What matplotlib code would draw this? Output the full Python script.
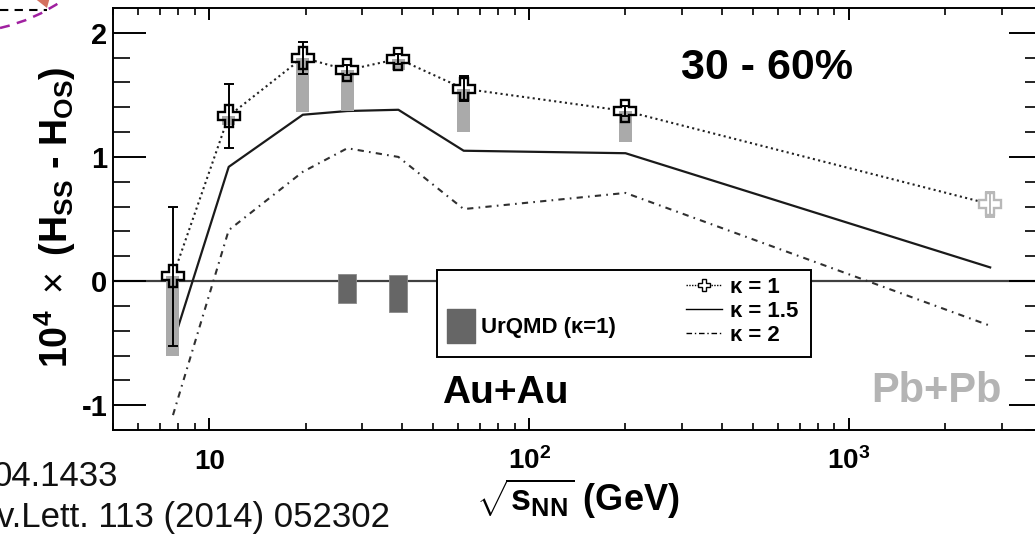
import matplotlib
matplotlib.use("Agg")
import matplotlib.pyplot as plt
import matplotlib.transforms as mtransforms
from matplotlib.lines import Line2D
from matplotlib.patches import Rectangle, Polygon, PathPatch
from matplotlib.path import Path
from matplotlib.ticker import FixedLocator, LogLocator, NullFormatter

plt.rcParams['font.family'] = ['Liberation Sans', 'DejaVu Sans']
plt.rcParams['mathtext.fontset'] = 'custom'
plt.rcParams['mathtext.rm'] = 'Liberation Sans'
plt.rcParams['mathtext.bf'] = 'Liberation Sans:bold'
plt.rcParams['mathtext.it'] = 'Liberation Sans:italic'
plt.rcParams['mathtext.sf'] = 'Liberation Sans'
plt.rcParams['axes.unicode_minus'] = False

# ---- data: 10^4 x (H_SS - H_OS), 30-60% centrality ----
energies = [7.7, 11.5, 19.6, 27, 39, 62.4, 200]
k1 = [0.04, 1.33, 1.80, 1.70, 1.79, 1.55, 1.37]
k1_stat = [0.56, 0.26, 0.13, 0.04, 0.04, 0.10, 0.04]
k1_sys_low = [0.64, 0.07, 0.44, 0.33, 0.09, 0.35, 0.25]

lhc_energy = [2760]
lhc_k1 = [0.62]
lhc_stat = [0.10]

model_energy = [7.7, 11.5, 19.6, 27, 39, 62.4, 200, 2760]
k15 = [-0.50, 0.92, 1.34, 1.37, 1.38, 1.05, 1.03, 0.11]
k2 = [-1.08, 0.41, 0.88, 1.07, 1.00, 0.58, 0.71, -0.36]

urqmd_energy = [27, 39]
urqmd = [-0.06, -0.10]
urqmd_err = [0.12, 0.15]

x_ticks = [10, 100, 1000]
x_ticklabels = ['10', r'$\mathbf{10^{2}}$', r'$\mathbf{10^{3}}$']
y_ticks = [-1, 0, 1, 2]
y_ticklabels = ['-1', '0', '1', '2']

W, H = 1035, 535
fig = plt.figure(figsize=(W / 100, H / 100), dpi=100)
ax = fig.add_axes([113 / W, (H - 430) / H, 928.7 / W, 422 / H])
ax.set_xscale('log')
ax.set_xlim(5, 4000)
ax.set_ylim(-1.2, 2.2)

# zero reference
ax.axhline(0, color='#404040', lw=1.6, zorder=1)

# model curves
ax.plot(model_energy, k15, color='#1a1a1a', lw=1.6, zorder=2)
ax.plot(model_energy, k2, color='#303030', lw=1.5, ls=(0, (3, 2.5, 0.8, 2.5)), zorder=2)
k1_all_x = energies + lhc_energy
k1_all_y = k1 + lhc_k1
ax.plot(k1_all_x, k1_all_y, color='#222222', lw=1.5, ls=(0, (1, 1.6)), zorder=2)

# white-filled crosses
ax.plot(energies, k1, ls='none', marker='P', ms=15.5, mfc='white', mec='none', zorder=3)
ax.plot(lhc_energy, lhc_k1, ls='none', marker='P', ms=15.5, mfc='white', mec='none', zorder=3)

# systematic boxes (downward)
half = 0.0203
lefts = [e * 10 ** -half for e in energies]
widths = [e * (10 ** half - 10 ** -half) for e in energies]
bottoms = [v - s for v, s in zip(k1, k1_sys_low)]
ax.bar(lefts, k1_sys_low, width=widths, bottom=bottoms, align='edge',
       color='#aaaaaa', linewidth=0, zorder=4)

# UrQMD boxes
uhalf = 0.028
ax.bar([e * 10 ** -uhalf for e in urqmd_energy], [2 * e for e in urqmd_err],
       width=[e * (10 ** uhalf - 10 ** -uhalf) for e in urqmd_energy],
       bottom=[v - e for v, e in zip(urqmd, urqmd_err)], align='edge',
       color='#666666', edgecolor='#8a8a8a', linewidth=0.6, zorder=4)

# statistical errors
ax.errorbar(energies, k1, yerr=k1_stat, fmt='none', ecolor='black',
            elinewidth=1.4, capsize=3.6, capthick=1.4, zorder=5)
ax.errorbar(lhc_energy, lhc_k1, yerr=lhc_stat, fmt='none', ecolor='#b8b8b8',
            elinewidth=1.4, capsize=3.6, capthick=1.4, zorder=5)

# cross outlines
ax.plot(energies, k1, ls='none', marker='P', ms=15.5, mfc='none', mec='black', mew=1.7, zorder=6)
ax.plot(lhc_energy, lhc_k1, ls='none', marker='P', ms=15.5, mfc='none', mec='#b8b8b8', mew=1.7, zorder=6)

# axes styling
for s in ax.spines.values():
    s.set_linewidth(1.4)
ax.xaxis.set_major_locator(FixedLocator(x_ticks))
ax.xaxis.set_minor_locator(LogLocator(base=10, subs=range(2, 10)))
ax.xaxis.set_minor_formatter(NullFormatter())
ax.set_xticklabels(x_ticklabels, fontsize=20, fontweight='bold', va='baseline')
ax.tick_params(axis='x', which='major', direction='in', length=8.6, width=1.4,
               top=True, pad=28)
ax.tick_params(axis='x', which='minor', direction='in', length=5, width=1.2, top=True)

ax.yaxis.set_major_locator(FixedLocator(y_ticks))
ax.yaxis.set_minor_locator(FixedLocator([i / 5 for i in range(-6, 11)]))
ax.set_yticklabels(y_ticklabels, fontsize=21, fontweight='bold')
ax.tick_params(axis='y', which='major', direction='in', length=23.5, width=1.4,
               right=True, pad=4)
ax.tick_params(axis='y', which='minor', direction='in', length=12, width=1.2, right=True)

ax.set_xlabel(r'$\sqrt{\mathbf{s}_{\mathbf{NN}}}$ (GeV)', fontsize=26, fontweight='bold')
ax.xaxis.set_label_coords(0.5, -0.110)
ax.set_ylabel(r'$\mathbf{10^{4}}\ \times$ (H$_{\mathbf{SS}}$ - H$_{\mathbf{OS}}$)',
              fontsize=27, fontweight='bold')
ax.yaxis.set_label_coords(-0.038, 0.505)

# annotations
ax.text(0.704, 0.832, '30 - 60%', transform=ax.transAxes, ha='center', va='baseline',
        fontsize=31, fontweight='bold')
ax.text(0.422, 0.064, 'Au+Au', transform=ax.transAxes, ha='center', va='baseline',
        fontsize=28, fontweight='bold')
ax.text(0.887, 0.066, 'Pb+Pb', transform=ax.transAxes, ha='center', va='baseline',
        fontsize=30, fontweight='bold', color='#b4b4b4')

# legend
ax.add_patch(Rectangle((0.349, 0.173), 0.4026, 0.206, transform=ax.transAxes,
                       facecolor='white', edgecolor='black', lw=1.4, zorder=7))
h1 = Line2D([], [], color='black', lw=1.0, ls=(0, (1, 1)), marker='P', ms=9,
            mfc='white', mec='black', mew=1.0)
h15 = Line2D([], [], color='black', lw=1.0)
h2 = Line2D([], [], color='black', lw=1.0, ls=(0, (4, 2, 1, 2)))
leg1 = ax.legend([h1, h15, h2], ['κ = 1', 'κ = 1.5', 'κ = 2'], loc='upper left',
                 bbox_to_anchor=(0.617, 0.3626), frameon=False, borderpad=0,
                 borderaxespad=0, handlelength=1.6, handletextpad=0.4,
                 labelspacing=0.14, numpoints=1, prop={'size': 16, 'weight': 'bold'})
leg1.set_zorder(8)
ax.add_artist(leg1)

rect_marker = Path([(-0.4, -0.5), (0.4, -0.5), (0.4, 0.5), (-0.4, 0.5), (-0.4, -0.5)],
                   [Path.MOVETO, Path.LINETO, Path.LINETO, Path.LINETO, Path.CLOSEPOLY])
hu = Line2D([], [], ls='none', marker=rect_marker, ms=25, mfc='#666666', mec='#666666')
leg2 = ax.legend([hu], ['UrQMD (κ=1)'], loc='center left',
                 bbox_to_anchor=(0.359, 0.242), frameon=False, borderpad=0,
                 borderaxespad=0, handlelength=1.3, handletextpad=0.25, numpoints=1,
                 prop={'size': 16, 'weight': 'bold'})
leg2.set_zorder(8)

# slide decorations (pixel coordinates, origin top-left)
pix = mtransforms.Affine2D().scale(1 / W, -1 / H).translate(0, 1) + fig.transFigure
fig.add_artist(Line2D([0, 47], [10, 10], transform=pix, color='black', lw=1.5,
                      ls=(0, (4, 3))))
arc = Path([(0, 28), (35, 20), (63, 0)], [Path.MOVETO, Path.CURVE3, Path.CURVE3])
fig.add_artist(PathPatch(arc, transform=pix, facecolor='none', edgecolor='#a020a0',
                         lw=1.8, ls=(0, (4, 3))))
fig.add_artist(Polygon([(33, -3), (50, -3), (47, 8)], closed=True, transform=pix,
                       facecolor='#d4715f', edgecolor='none'))
fig.text(118 / W, 1 - 486 / H, '04.1433', ha='right', va='baseline', fontsize=25,
         color='#111111')
fig.text(-3 / W, 1 - 527 / H, 'v.Lett. 113 (2014) 052302', ha='left', va='baseline',
         fontsize=25, color='#111111')

fig.savefig('out.png', dpi=100)
